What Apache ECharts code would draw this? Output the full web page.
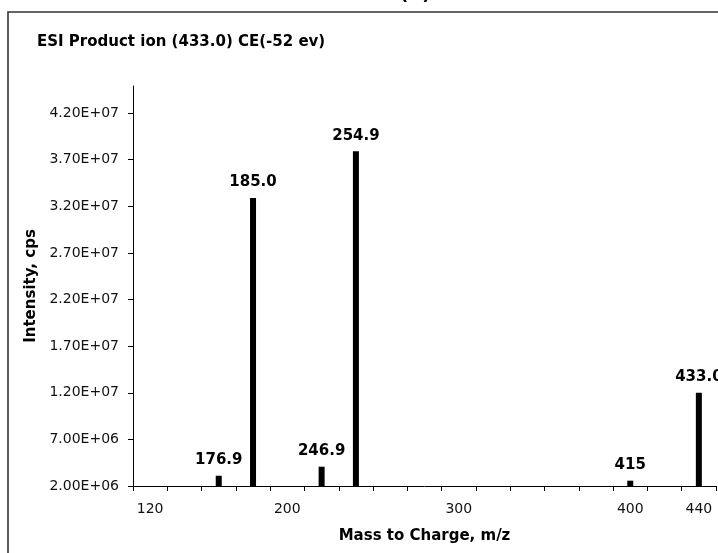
<!DOCTYPE html>
<html>
<head>
<meta charset="utf-8">
<script src="https://cdn.jsdelivr.net/npm/echarts@6/dist/echarts.min.js"></script>
<style>
  html, body { margin: 0; padding: 0; background: #fff; }
  #chart { width: 718px; height: 553px; }
</style>
</head>
<body>
<div id="chart"></div>
<script>
// m/z category slots as the instrument axis shows them (only some are labelled)
const mzSlots = ['120', '', '', '', '200', '', '', '', '', '300', '', '', '', '', '400', '', '440'];

// peaks: slot index, intensity (cps), label
const peakSlot = [2, 3, 5, 6, 14, 16];
const peakIntensity = [3.1e6, 3.29e7, 4.07e6, 3.79e7, 2.57e6, 1.2e7];
const peakLabel = ['176.9', '185.0', '246.9', '254.9', '415', '433.0'];

const yTicks = [2e6, 7e6, 1.2e7, 1.7e7, 2.2e7, 2.7e7, 3.2e7, 3.7e7, 4.2e7];

const font = 'DejaVu Sans, Verdana, sans-serif';

// excel style 4.20E+07
function sci(v) {
    const s = v.toExponential(2).toUpperCase();
    const parts = s.split('E');
    const sign = parts[1][0];
    let exp = parts[1].slice(1);
    if (exp.length < 2) exp = '0' + exp;
    return parts[0] + 'E' + sign + exp;
}

const barData = mzSlots.map(() => null);
peakSlot.forEach((slot, i) => {
    barData[slot] = {
        value: peakIntensity[i],
        label: { formatter: peakLabel[i] }
    };
});

const chart = echarts.init(document.getElementById('chart'));
chart.setOption({
    animation: false,
    backgroundColor: '#fff',
    grid: { left: 133, right: 2, top: 86, bottom: 67, containLabel: false },
    graphic: [
        {
            type: 'rect',
            shape: { x: 8, y: 12, width: 900, height: 800 },
            style: { fill: 'none', stroke: '#333', lineWidth: 1.6 },
            silent: true
        },
        {
            type: 'text',
            left: 400,
            top: -14,
            style: { text: '(A)', font: 'bold 18px ' + font, fill: '#000' },
            silent: true
        },
        {
            type: 'text',
            left: 37,
            top: 35,
            style: { text: 'ESI Product ion (433.0) CE(-52 ev)', font: 'bold 15px ' + font, fill: '#000' },
            silent: true
        }
    ],
    xAxis: {
        type: 'category',
        data: mzSlots,
        boundaryGap: true,
        name: 'Mass to Charge, m/z',
        nameLocation: 'middle',
        nameGap: 43,
        nameTextStyle: { fontFamily: font, fontWeight: 'bold', fontSize: 15, color: '#000' },
        axisLine: { show: true, lineStyle: { color: '#000', width: 1 } },
        axisTick: { show: true, interval: 0, alignWithLabel: false, length: 5, lineStyle: { color: '#000' } },
        axisLabel: { interval: 0, margin: 16, fontFamily: font, fontSize: 14, color: '#111' },
        splitLine: { show: false }
    },
    yAxis: {
        type: 'value',
        min: 2e6,
        max: 4.49e7,
        name: 'Intensity, cps',
        nameLocation: 'middle',
        nameGap: 91,
        nameTextStyle: { fontFamily: font, fontWeight: 'bold', fontSize: 15, color: '#000' },
        axisLine: { show: true, lineStyle: { color: '#000', width: 1 } },
        axisTick: { show: true, length: 5, customValues: yTicks, lineStyle: { color: '#000' } },
        axisLabel: { margin: 14, customValues: yTicks, formatter: sci, fontFamily: font, fontSize: 14, color: '#111' },
        splitLine: { show: false }
    },
    series: [{
        type: 'bar',
        data: barData,
        barWidth: 6,
        itemStyle: { color: '#000' },
        label: {
            show: true,
            position: 'top',
            distance: 8,
            fontFamily: font,
            fontWeight: 'bold',
            fontSize: 15,
            color: '#000'
        }
    }]
});
</script>
</body>
</html>
